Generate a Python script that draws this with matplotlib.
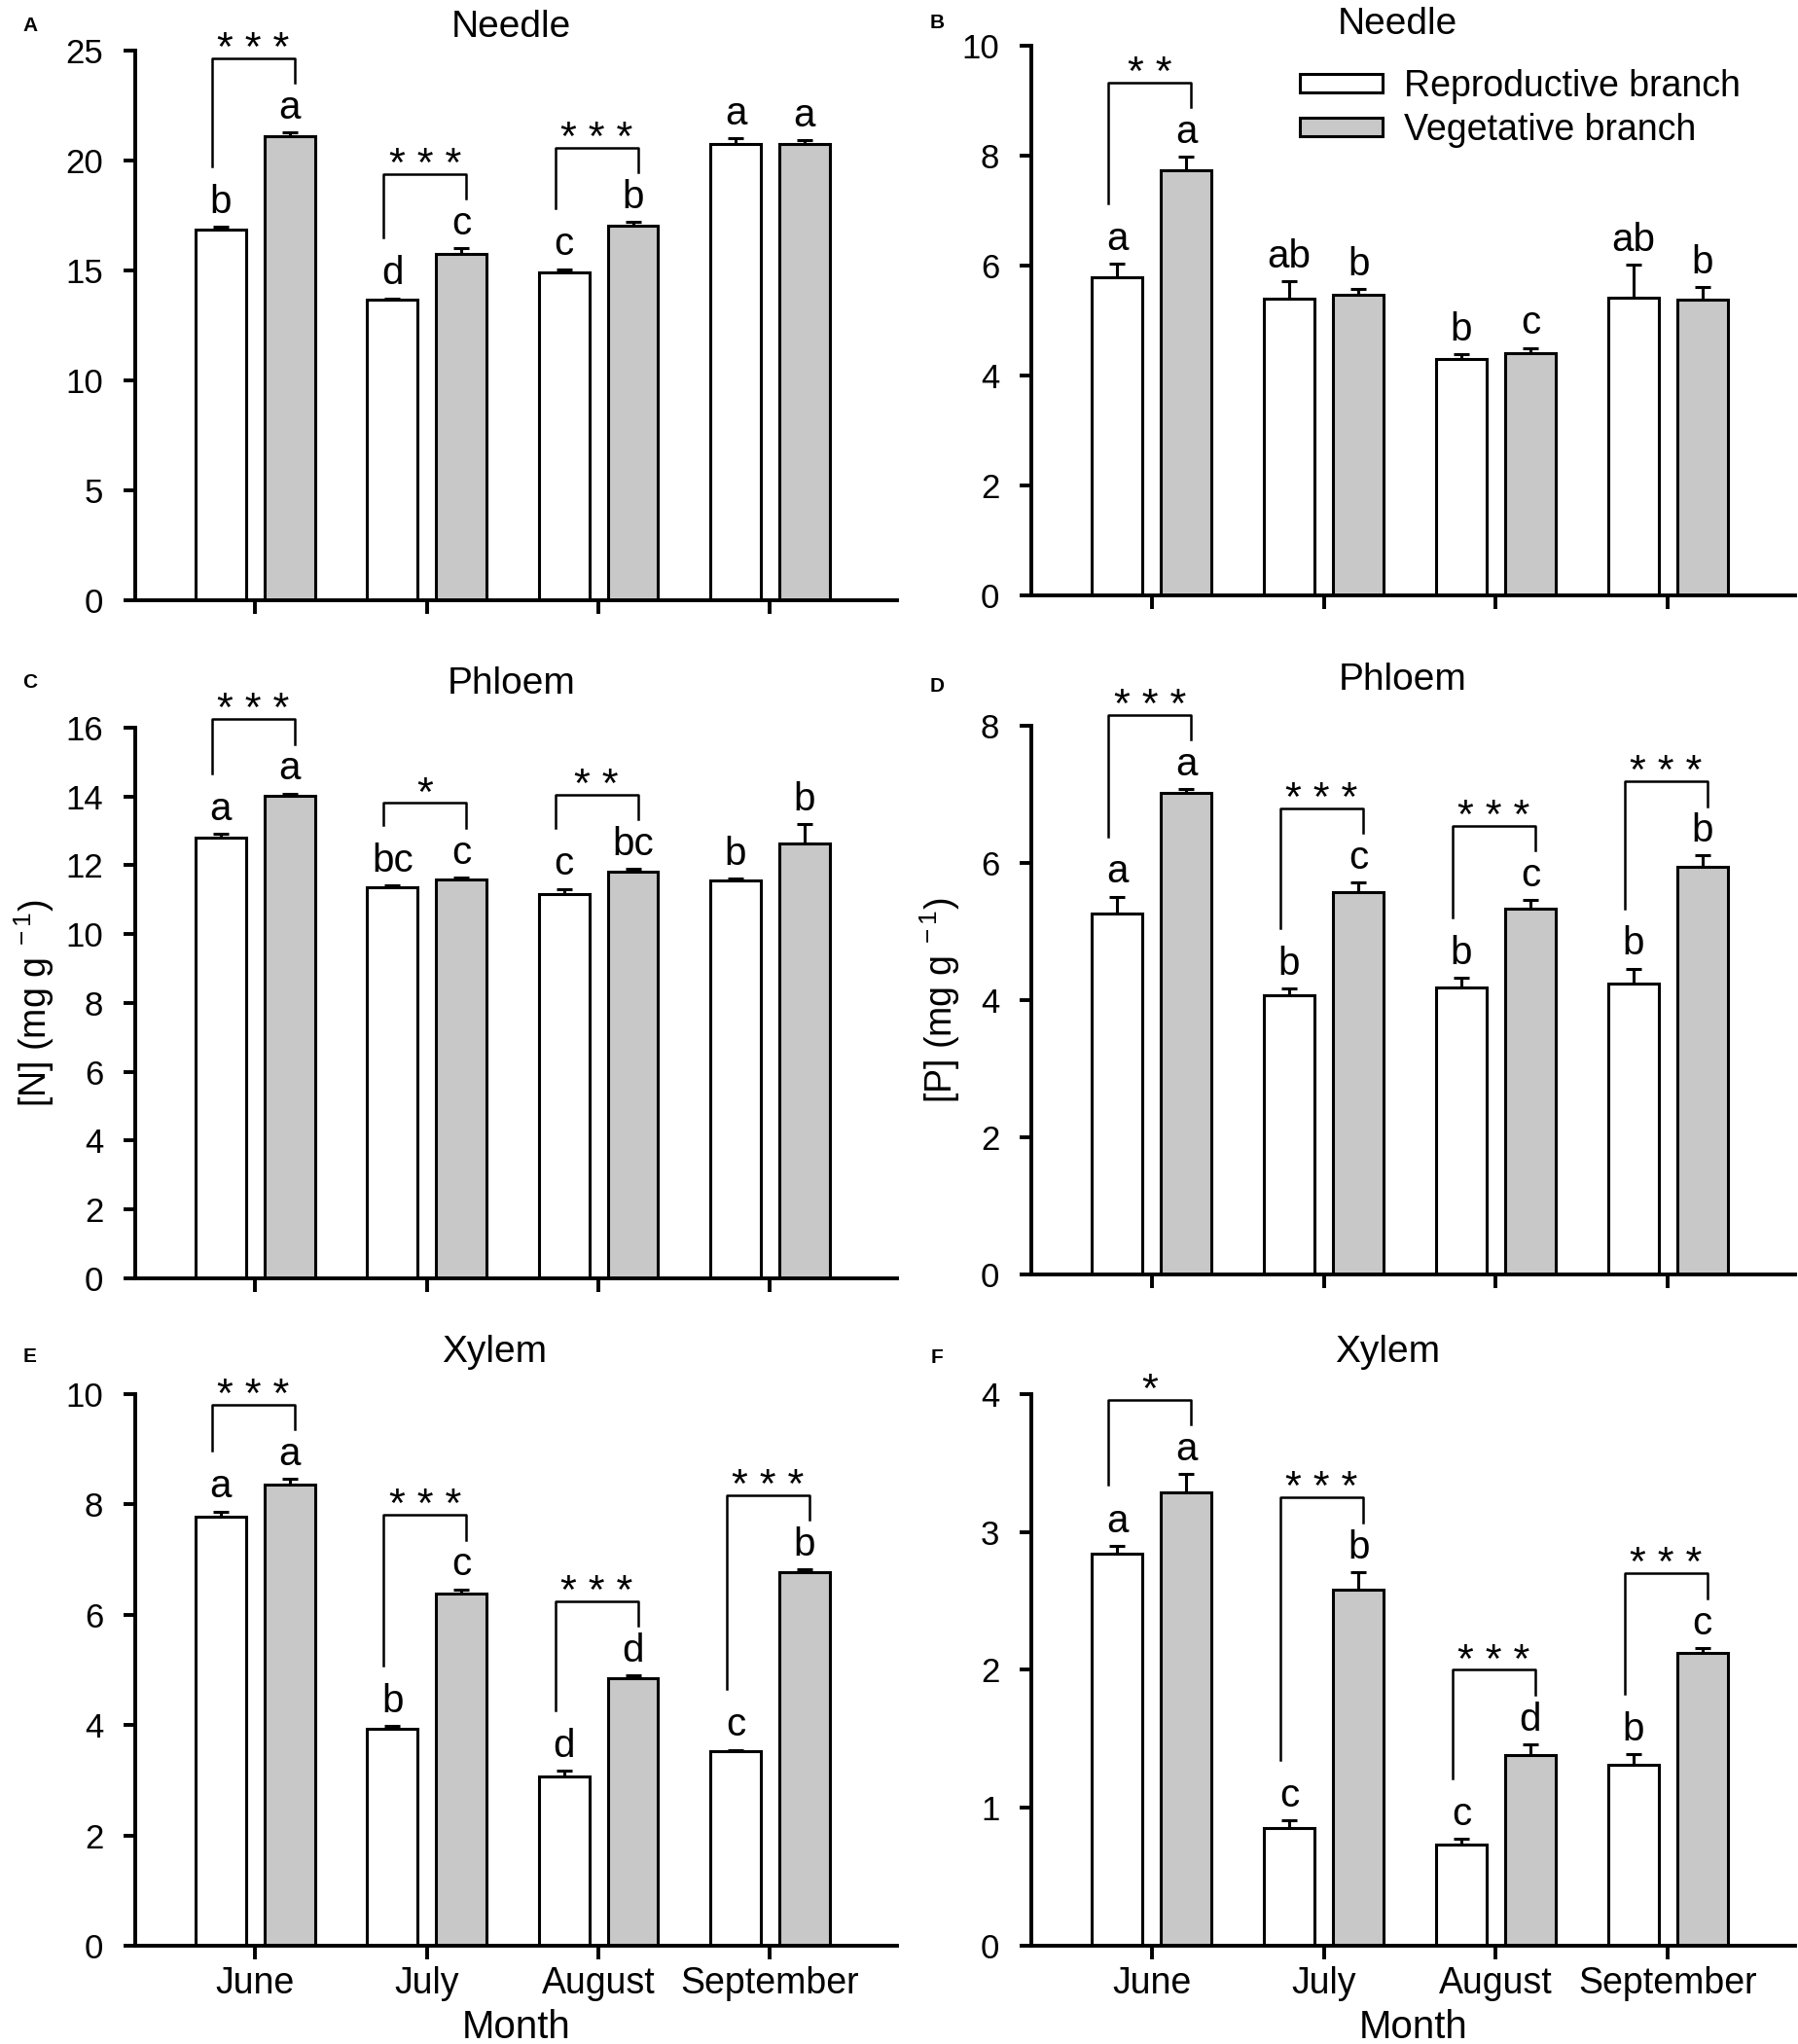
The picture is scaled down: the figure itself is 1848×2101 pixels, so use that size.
import matplotlib
matplotlib.use("Agg")
import matplotlib.pyplot as plt
import numpy as np
from matplotlib.patches import Patch

plt.rcParams["font.family"] = ["Liberation Sans", "DejaVu Sans"]
plt.rcParams["mathtext.fontset"] = "custom"
plt.rcParams["mathtext.rm"] = "Liberation Sans"
plt.rcParams["mathtext.it"] = "Liberation Sans:italic"

months = ["June", "July", "August", "September"]
series_names = ["Reproductive branch", "Vegetative branch"]

# A: needle [N]
a_rep = [16.85, 13.66, 14.92, 20.75]
a_rep_se = [0.15, 0.08, 0.15, 0.25]
a_veg = [21.10, 15.77, 17.06, 20.75]
a_veg_se = [0.18, 0.25, 0.15, 0.20]
a_rep_let = ["b", "d", "c", "a"]
a_veg_let = ["a", "c", "b", "a"]
a_sig = ["***", "***", "***", ""]

# B: needle [P]
b_rep = [5.79, 5.39, 4.30, 5.42]
b_rep_se = [0.24, 0.32, 0.09, 0.60]
b_veg = [7.73, 5.47, 4.40, 5.38]
b_veg_se = [0.25, 0.10, 0.10, 0.22]
b_rep_let = ["a", "ab", "b", "ab"]
b_veg_let = ["a", "b", "c", "b"]
b_sig = ["**", "", "", ""]

# C: phloem [N]
c_rep = [12.81, 11.37, 11.17, 11.57]
c_rep_se = [0.10, 0.05, 0.15, 0.05]
c_veg = [14.01, 11.58, 11.82, 12.64]
c_veg_se = [0.08, 0.07, 0.07, 0.57]
c_rep_let = ["a", "bc", "c", "b"]
c_veg_let = ["a", "c", "bc", "b"]
c_sig = ["***", "*", "**", ""]

# D: phloem [P]
d_rep = [5.26, 4.07, 4.19, 4.24]
d_rep_se = [0.25, 0.10, 0.14, 0.22]
d_veg = [7.02, 5.57, 5.34, 5.94]
d_veg_se = [0.06, 0.15, 0.12, 0.17]
d_rep_let = ["a", "b", "b", "b"]
d_veg_let = ["a", "c", "c", "b"]
d_sig = ["***", "***", "***", "***"]

# E: xylem [N]
e_rep = [7.78, 3.93, 3.07, 3.52]
e_rep_se = [0.09, 0.05, 0.10, 0.03]
e_veg = [8.35, 6.39, 4.85, 6.77]
e_veg_se = [0.11, 0.07, 0.05, 0.05]
e_rep_let = ["a", "b", "d", "c"]
e_veg_let = ["a", "c", "d", "b"]
e_sig = ["***", "***", "***", "***"]

# F: xylem [P]
f_rep = [2.84, 0.85, 0.73, 1.31]
f_rep_se = [0.06, 0.06, 0.045, 0.08]
f_veg = [3.29, 2.58, 1.38, 2.12]
f_veg_se = [0.13, 0.13, 0.08, 0.04]
f_rep_let = ["a", "c", "c", "b"]
f_veg_let = ["a", "b", "d", "c"]
f_sig = ["*", "***", "***", "***"]

panels = [
    ("A", "Needle", 25, 5, a_rep, a_rep_se, a_veg, a_veg_se, a_rep_let, a_veg_let, a_sig),
    ("B", "Needle", 10, 2, b_rep, b_rep_se, b_veg, b_veg_se, b_rep_let, b_veg_let, b_sig),
    ("C", "Phloem", 16, 2, c_rep, c_rep_se, c_veg, c_veg_se, c_rep_let, c_veg_let, c_sig),
    ("D", "Phloem", 8, 2, d_rep, d_rep_se, d_veg, d_veg_se, d_rep_let, d_veg_let, d_sig),
    ("E", "Xylem", 10, 2, e_rep, e_rep_se, e_veg, e_veg_se, e_rep_let, e_veg_let, e_sig),
    ("F", "Xylem", 4, 1, f_rep, f_rep_se, f_veg, f_veg_se, f_rep_let, f_veg_let, f_sig),
]

# layout (figure fractions)
rects = [
    [0.0752, 0.7063, 0.4237, 0.2689],
    [0.5736, 0.7089, 0.4248, 0.2687],
    [0.0752, 0.3746, 0.4237, 0.2694],
    [0.5736, 0.3765, 0.4248, 0.2684],
    [0.0752, 0.0481, 0.4237, 0.2699],
    [0.5736, 0.0481, 0.4248, 0.2699],
]
title_pads = [10, 9, 25, 27, 24, 24]
title_x = [0.494, 0.48, 0.494, 0.486, 0.472, 0.467]
tag_pos = [(0.0168, 0.9876), (0.521, 0.9888), (0.0168, 0.6659),
           (0.521, 0.664), (0.0168, 0.3365), (0.521, 0.336)]
ylabels = {2: (r"[N] (mg g$^{\ -1}$)", -0.104), 3: (r"[P] (mg g$^{\ -1}$)", -0.090)}

GREY = "#c8c8c8"
W = 0.294
OFF = 0.201
LW = 2.2

fig = plt.figure(figsize=(18.48, 21.01), dpi=100)
x = np.arange(len(months))

for i, (tag, title, ymax, ystep, rep, rep_se, veg, veg_se,
        rep_let, veg_let, sig) in enumerate(panels):
    ax = fig.add_axes(rects[i])
    zeros = np.zeros(len(months))
    ax.errorbar(x - OFF, rep, yerr=[zeros, rep_se], fmt="none", ecolor="black",
                elinewidth=2.2, capsize=6, capthick=2.2, zorder=1)
    ax.errorbar(x + OFF, veg, yerr=[zeros, veg_se], fmt="none", ecolor="black",
                elinewidth=2.2, capsize=6, capthick=2.2, zorder=1)
    ax.bar(x - OFF, rep, W, color="white", edgecolor="black", linewidth=LW, zorder=2)
    ax.bar(x + OFF, veg, W, color=GREY, edgecolor="black", linewidth=LW, zorder=2)

    rtop = np.array(rep) + np.array(rep_se)
    vtop = np.array(veg) + np.array(veg_se)
    for j in range(len(months)):
        ax.text(x[j] - OFF, rtop[j] + 0.025 * ymax, rep_let[j], ha="center",
                va="baseline", fontsize=29)
        ax.text(x[j] + OFF, vtop[j] + 0.025 * ymax, veg_let[j], ha="center",
                va="baseline", fontsize=29)
        if sig[j]:
            top = max(rtop[j], vtop[j]) + 0.135 * ymax
            xl, xr = x[j] - 0.252, x[j] + 0.229
            ax.plot([xl, xl, xr, xr],
                    [rtop[j] + 0.11 * ymax, top, top, vtop[j] + 0.09 * ymax],
                    color="black", lw=1.8, clip_on=False, zorder=3)
            ax.text((xl + xr) / 2, top - 0.004 * ymax, " ".join(sig[j]),
                    ha="center", va="baseline", fontsize=31, clip_on=False)

    ax.set_xlim(-0.70, 3.74)
    ax.set_ylim(0, ymax)
    ax.set_yticks(np.arange(0, ymax + ystep / 2, ystep))
    ax.set_xticks(x)
    if i >= 4:
        ax.set_xticklabels(months)
        ax.set_xlabel("Month", fontsize=29, labelpad=6)
    else:
        ax.set_xticklabels([])
    for side in ["top", "right"]:
        ax.spines[side].set_visible(False)
    for side in ["left", "bottom"]:
        ax.spines[side].set_linewidth(2.8)
    ax.tick_params(axis="y", direction="out", length=8.5, width=2.8, pad=15, labelsize=25)
    ax.tick_params(axis="x", direction="out", length=10, width=2.8, pad=5, labelsize=27)
    ax.set_title(title, fontsize=28, pad=title_pads[i], x=title_x[i])
    if i in ylabels:
        text, lx = ylabels[i]
        ax.set_ylabel(text, fontsize=27)
        ax.yaxis.set_label_coords(lx, 0.5)
    fig.text(tag_pos[i][0], tag_pos[i][1], tag, fontsize=15, fontweight="bold",
             ha="center", va="center")

    if i == 1:
        handles = [Patch(facecolor="white", edgecolor="black", linewidth=LW),
                   Patch(facecolor=GREY, edgecolor="black", linewidth=LW)]
        ax.legend(handles, series_names, loc="upper left",
                  bbox_to_anchor=(0.352, 0.958), frameon=False, fontsize=27,
                  handlelength=2.25, handleheight=0.42, handletextpad=0.6,
                  labelspacing=0.25, borderpad=0, borderaxespad=0)

fig.savefig("out.png", dpi=100)
